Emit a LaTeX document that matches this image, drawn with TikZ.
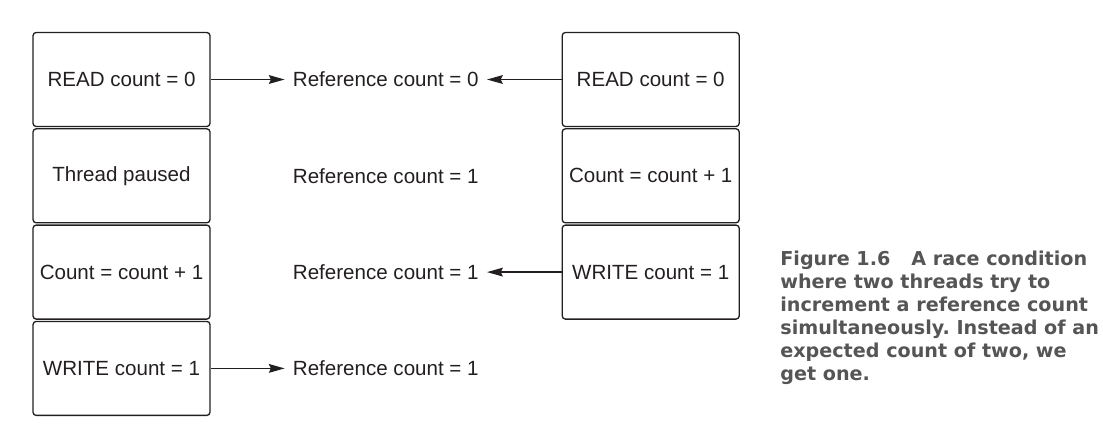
\documentclass[tikz,border=0pt]{standalone}
\usepackage{fontspec}
\setmainfont{Liberation Sans}
\newfontfamily\capfont{DejaVu Sans}
\usetikzlibrary{positioning,arrows.meta}
\definecolor{capgray}{HTML}{555555}
\definecolor{ink}{HTML}{231F20}
\frenchspacing

\begin{document}
\begin{tikzpicture}[x=0.02cm, y=-0.02cm, node distance=0.02cm,
	every node/.style={font=\fontsize{11.7}{14}\selectfont, text=ink},
	thread/.style={draw=ink, rounded corners=1.8pt, line width=0.75pt, minimum width=3.54cm, minimum height=1.88cm, inner sep=0pt},
	refcount/.style={inner sep=0.16cm},
	ptr/.style={draw=ink, line width=0.75pt, -{Stealth[length=9pt,width=5pt,inset=1.2pt]}},
	caption/.style={font=\capfont\bfseries\fontsize{10.9}{13}\selectfont, text=capgray, align=left, inner sep=0pt}]
	\useasboundingbox (0,0) rectangle (1103,434);
	
	% first thread
	\node[thread] (l1) at (121.5,79.5) {READ count = 0};
	\node[thread, below=of l1] (l2) {Thread paused};
	\node[thread, below=of l2] (l3) {Count = count + 1};
	\node[thread, below=of l3] (l4) {WRITE count = 1};
	
	% second thread
	\node[thread, right=7.02cm of l1] (r1) {READ count = 0};
	\node[thread, below=of r1] (r2) {Count = count + 1};
	\node[thread, below=of r2] (r3) {WRITE count = 1};
	
	% shared counter
	\node[refcount, right=1.48cm of l1] (c1) {Reference count = 0};
	\node[refcount, right=1.48cm of l2] (c2) {Reference count = 1};
	\node[refcount, right=1.48cm of l3] (c3) {Reference count = 1};
	\node[refcount, right=1.48cm of l4] (c4) {Reference count = 1};
	
	\draw[ptr] (l1) -- (c1);
	\draw[ptr] (r1) -- (c1);
	\draw[ptr] (r3) -- (c3);
	\draw[ptr] (l4) -- (c4);
	
	\node[caption, anchor=north west] (fig) at (780,251) {Figure 1.6\hspace{1.1em}A race condition\\where two threads try to\\increment a reference count\\simultaneously. Instead of an\\expected count of two, we\\get one.};
\end{tikzpicture}
\end{document}
